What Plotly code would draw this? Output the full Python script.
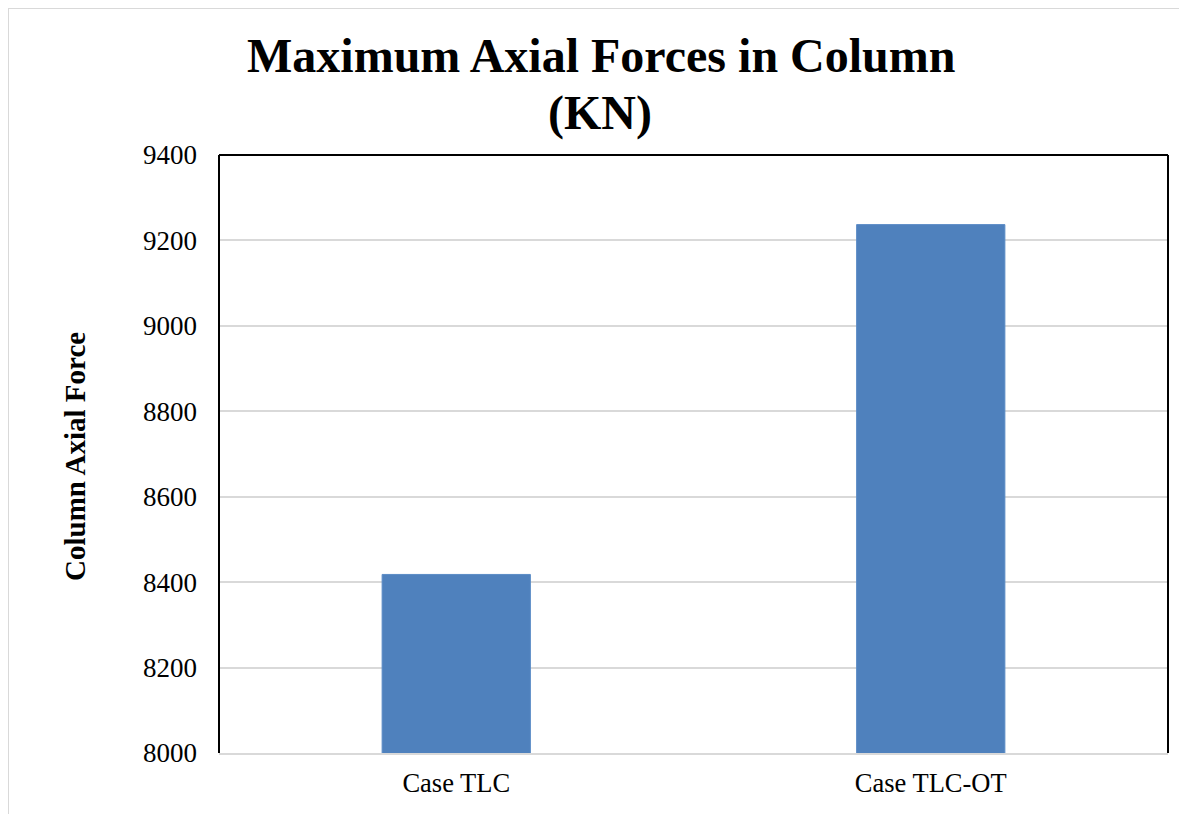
import plotly.graph_objects as go

categories = ["Case TLC", "Case TLC-OT"]
values = [8418, 9237]
y_ticks = [8000, 8200, 8400, 8600, 8800, 9000, 9200, 9400]
title_line1 = "Maximum Axial Forces in Column"
title_line2 = "(KN)"
y_title = "Column Axial Force"

OFF = 8  # page body margin
W, H = 1187 - 2 * OFF, 822 - 2 * OFF
L, T = 219 - OFF, 155 - OFF
R = W - (1168 - OFF)
B = H - (753 - OFF)
pw, ph = W - L - R, H - T - B

def px_x(x):
    return (x - OFF - L) / pw

def px_y(y):
    return (H - B - (y - OFF)) / ph

FONT = "Liberation Serif"

fig = go.Figure(go.Bar(
    x=categories, y=values,
    marker=dict(color="#4f81bd", line=dict(color="#5b8cc6", width=1)),
))

fig.update_layout(
    width=W, height=H,
    margin=dict(l=L, r=R, t=T, b=B),
    paper_bgcolor="white", plot_bgcolor="white",
    bargap=0.6875,
    showlegend=False,
    font=dict(family=FONT, color="black", size=26),
    xaxis=dict(
        showline=True, linecolor="#d9d9d9", linewidth=2,
        ticks="", tickfont=dict(family=FONT, size=26.5, color="black"),
        ticklabelstandoff=5,
    ),
    yaxis=dict(
        range=[8000, 9400], tickvals=y_ticks,
        ticktext=[str(v) for v in y_ticks],
        showgrid=True, gridcolor="#d9d9d9", gridwidth=1.5,
        zeroline=False, showline=False, ticks="",
        tickfont=dict(family=FONT, size=27, color="black"),
        ticklabelstandoff=21,
    ),
    annotations=[
        dict(text="<b>" + title_line1 + "</b>", x=px_x(601), y=px_y(55.5), xref="paper", yref="paper",
             xanchor="center", yanchor="middle", showarrow=False,
             font=dict(family=FONT, size=48, color="black")),
        dict(text="<b>" + title_line2 + "</b>", x=px_x(600), y=px_y(112.5), xref="paper", yref="paper",
             xanchor="center", yanchor="middle", showarrow=False,
             font=dict(family=FONT, size=48, color="black")),
        dict(text="<b>" + y_title + "</b>", x=px_x(75), y=px_y(457), xref="paper", yref="paper",
             xanchor="center", yanchor="middle", showarrow=False, textangle=-90,
             font=dict(family=FONT, size=29, color="black")),
    ],
    shapes=[
        dict(type="line", xref="paper", yref="paper", x0=0, x1=0, y0=0, y1=1,
             line=dict(color="black", width=2)),
        dict(type="line", xref="paper", yref="paper", x0=0, x1=1, y0=1, y1=1,
             line=dict(color="black", width=2)),
        dict(type="line", xref="paper", yref="paper", x0=1, x1=1, y0=0, y1=1,
             line=dict(color="black", width=2)),
        dict(type="rect", xref="paper", yref="paper",
             x0=px_x(8), x1=px_x(1220), y0=px_y(860), y1=px_y(8),
             line=dict(color="#d9d9d9", width=2), layer="below"),
    ],
)

fig.write_html("out.html")
